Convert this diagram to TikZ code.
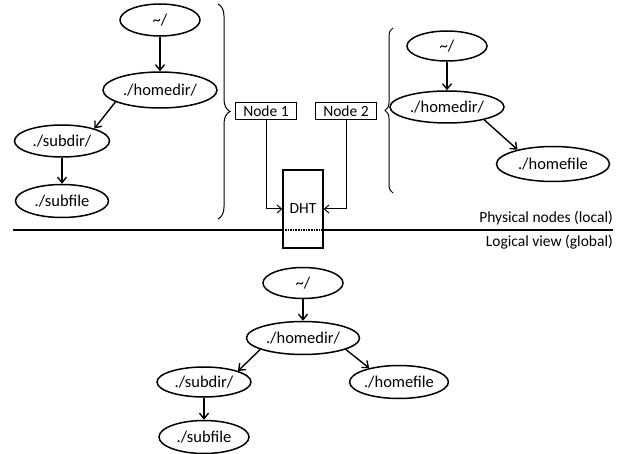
\documentclass[tikz,border=0pt]{standalone}
\usepackage{fontspec}
\setmainfont{Carlito}
\usetikzlibrary{shapes.geometric,arrows.meta,decorations.pathreplacing}
\begin{document}
\begin{tikzpicture}[x=1pt,y=-1pt,
  every node/.style={font=\fontsize{15.5}{18}\selectfont},
  dirnode/.style={ellipse,draw,line width=1.5pt,inner sep=0pt,font=\fontsize{16.5}{19}\selectfont},
  boxnode/.style={rectangle,draw,line width=1.6pt,inner sep=0pt,minimum width=61pt,minimum height=17pt},
  arr/.style={-{Straight Barb[length=5.5pt,width=9pt]},line width=1.4pt},
  thinarr/.style={-{Straight Barb[length=4.5pt,width=8pt]},line width=1pt},
  bracestyle/.style={decorate,line width=1pt}]
\useasboundingbox (0,0) rectangle (618,454);
% top-left tree
\node[dirnode,minimum width=80pt,minimum height=32pt] (ta) at (160,20) {\~{}/};
\node[dirnode,minimum width=114pt,minimum height=36pt] (tb) at (160,90) {./homedir/};
\node[dirnode,minimum width=95pt,minimum height=32pt] (tc) at (62,141) {./subdir/};
\node[dirnode,minimum width=93pt,minimum height=33pt] (td) at (62,201) {./subfile};
\draw[arr] (ta) -- (tb);
\draw[arr] (tb.195) -- (tc.21);
\draw[arr] (tc) -- (td);
% braces
\coordinate (b1t) at (218,4);
\coordinate (b1b) at (218,219);
\draw[bracestyle,decoration={brace,amplitude=12pt}] (b1t) -- (b1b);
\coordinate (b2t) at (393,28);
\coordinate (b2b) at (393,193);
\draw[bracestyle,decoration={brace,amplitude=8pt}] (b2b) -- (b2t);
% nodes
\node[boxnode] (n1) at (266,111) {Node 1};
\node[boxnode] (n2) at (346,111) {Node 2};
% right tree
\node[dirnode,minimum width=80pt,minimum height=30pt] (ra) at (447,46) {\~{}/};
\node[dirnode,minimum width=114pt,minimum height=32pt] (rb) at (447,107) {./homedir/};
\node[dirnode,minimum width=113pt,minimum height=35pt] (rc) at (553,164) {./homefile};
\draw[arr] (ra) -- (rb);
\draw[arr] (rb.-19) -- (rc.158);
% DHT
\node[rectangle,draw,line width=1.4pt,minimum width=40pt,minimum height=78pt,inner sep=0pt] (dht) at (303,209) {DHT};
\draw[thinarr] (n1.south) |- (dht.west);
\draw[thinarr] (n2.south) |- (dht.east);
% separator
\coordinate (hl) at (13,230);
\coordinate (hr) at (613,230);
\draw[line width=1.6pt] (hl) -- (dht.west |- hl);
\draw[line width=1.6pt] (dht.east |- hl) -- (hr);
\draw[line width=1.6pt,densely dotted] (dht.west |- hl) -- (dht.east |- hl);
\node[anchor=east,inner sep=0pt] (phys) at (613,218) {Physical nodes (local)};
\node[anchor=east,inner sep=0pt] (logv) at (613,242) {Logical view (global)};
% bottom tree
\node[dirnode,minimum width=80pt,minimum height=31pt] (ga) at (303,283) {\~{}/};
\node[dirnode,minimum width=113pt,minimum height=33pt] (gb) at (303,338) {./homedir/};
\node[dirnode,minimum width=94pt,minimum height=30pt] (gc) at (204,382) {./subdir/};
\node[dirnode,minimum width=97pt,minimum height=33pt] (gd) at (399,382) {./homefile};
\node[dirnode,minimum width=90pt,minimum height=33pt] (ge) at (204,437) {./subfile};
\draw[arr] (ga) -- (gb);
\draw[arr] (gb.195) -- (gc.18);
\draw[arr] (gb.-15) -- (gd.155);
\draw[arr] (gc) -- (ge);
\end{tikzpicture}
\end{document}
